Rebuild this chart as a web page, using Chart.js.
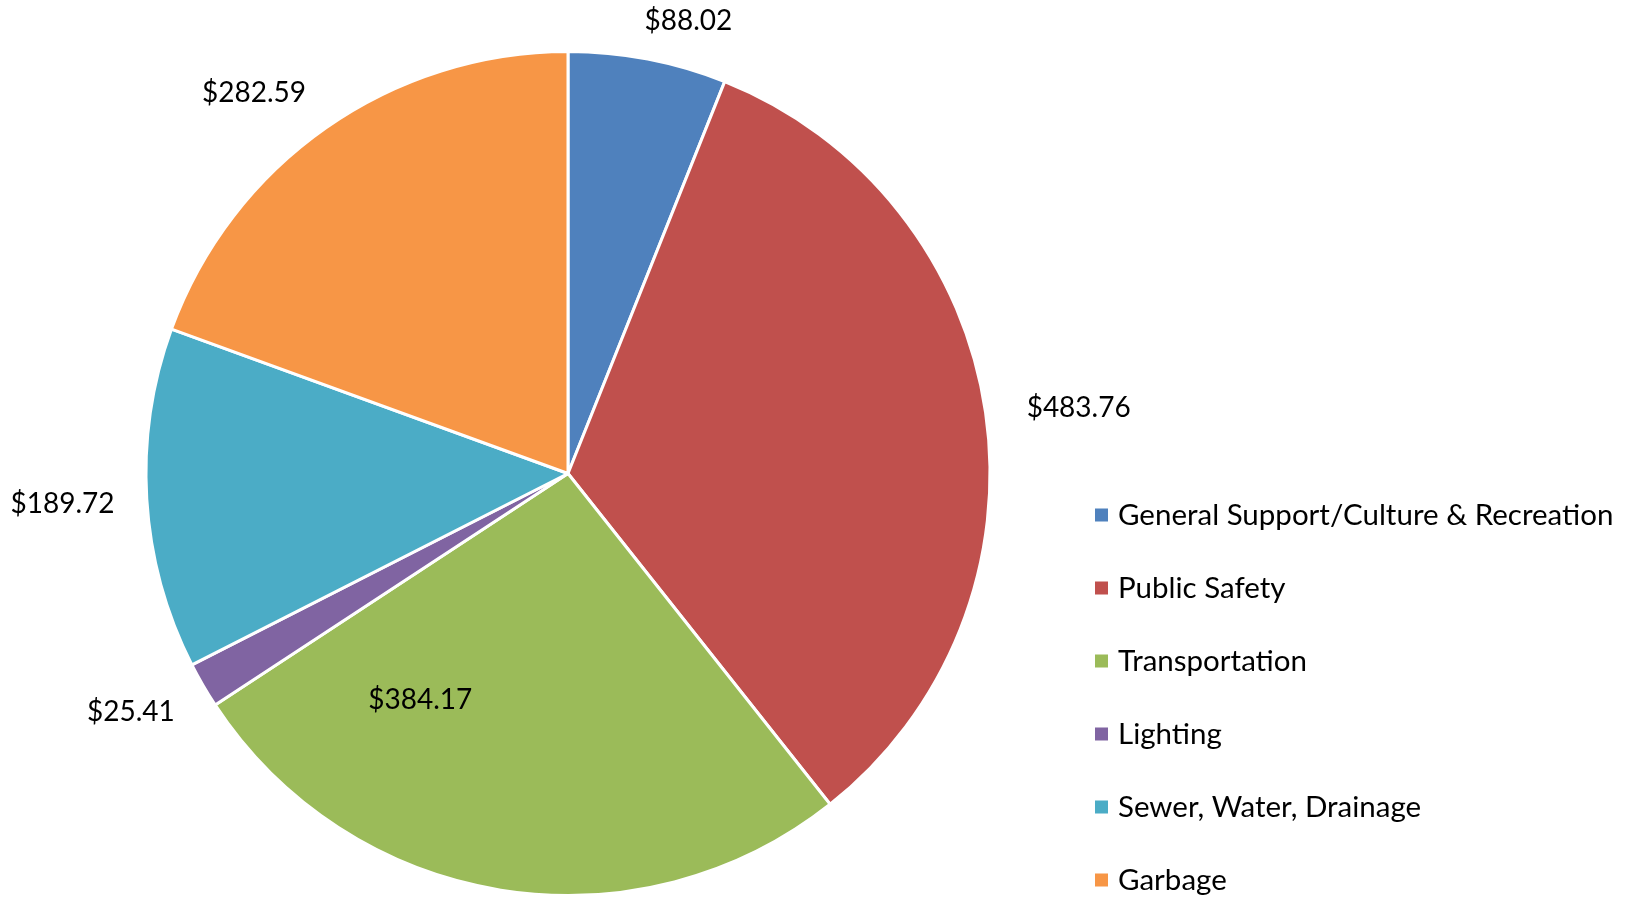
<!DOCTYPE html>
<html lang="en">
<head>
    <meta charset="UTF-8">
    <title>Pie</title>
    <script src="https://cdn.jsdelivr.net/npm/chart.js"></script>
    <style>
        html, body { margin: 0; padding: 0; background: #fff; }
        #wrap { width: 1629px; height: 897px; }
    </style>
</head>
<body>
    <div id="wrap"><canvas id="grafico"></canvas></div>

<script>
    // dados do gráfico
    const categorias = ['General Support/Culture & Recreation', 'Public Safety', 'Transportation', 'Lighting', 'Sewer, Water, Drainage', 'Garbage'];
    const valores = [88.02, 483.76, 384.17, 25.41, 189.72, 282.59];
    const rotulos = ['$88.02', '$483.76', '$384.17', '$25.41', '$189.72', '$282.59'];
    const cores = ['#4F81BD', '#C0504D', '#9BBB59', '#8064A2', '#4BACC6', '#F79646'];

    const fonte = 'Lato, "Open Sans", sans-serif';

    // rótulos de dados (distância relativa ao raio e deslocamento em graus)
    const pluginRotulos = {
        id: 'rotulos',
        afterDatasetsDraw(chart, args, opts) {
            const ctx = chart.ctx;
            const meta = chart.getDatasetMeta(0);
            ctx.save();
            ctx.font = opts.size + 'px ' + fonte;
            ctx.fillStyle = '#000';
            ctx.textAlign = 'center';
            ctx.textBaseline = 'middle';
            meta.data.forEach((arc, i) => {
                const p = arc.getProps(['x', 'y', 'startAngle', 'endAngle', 'outerRadius'], true);
                const a = (p.startAngle + p.endAngle) / 2 + opts.desvio[i] * Math.PI / 180;
                const d = p.outerRadius * opts.dist[i];
                ctx.fillText(rotulos[i], p.x + Math.cos(a) * d, p.y + Math.sin(a) * d);
            });
            ctx.restore();
        }
    };

    // legenda desenhada à mão
    const pluginLegenda = {
        id: 'legendaManual',
        afterDraw(chart, args, opts) {
            const ctx = chart.ctx;
            ctx.save();
            ctx.font = opts.size + 'px ' + fonte;
            ctx.textBaseline = 'middle';
            ctx.textAlign = 'left';
            chart.data.labels.forEach((nome, i) => {
                const y = opts.y + i * opts.passo;
                ctx.fillStyle = cores[i];
                ctx.fillRect(opts.x, y - opts.box / 2, opts.box, opts.box);
                ctx.fillStyle = '#000';
                ctx.fillText(nome, opts.x + opts.box + 10, y);
            });
            ctx.restore();
        }
    };

    new Chart(document.getElementById('grafico'), {
        type: 'pie',
        data: {
            labels: categorias,
            datasets: [{
                data: valores,
                backgroundColor: cores,
                borderColor: '#fff',
                borderWidth: 3
            }]
        },
        options: {
            responsive: true,
            maintainAspectRatio: false,
            animation: false,
            layout: { padding: { top: 50, bottom: 0, left: 143, right: 636 } },
            plugins: {
                legend: { display: false },
                tooltip: { enabled: false },
                rotulos: {
                    size: 28,
                    dist: [1.11, 1.22, 0.64, 1.18, 1.2, 1.17],
                    desvio: [4, 1, 24, 1.5, 0, -4.5]
                },
                legendaManual: { x: 1095, y: 515, passo: 73, box: 13, size: 29.5 }
            }
        },
        plugins: [pluginRotulos, pluginLegenda]
    });
</script>
</body>
</html>
